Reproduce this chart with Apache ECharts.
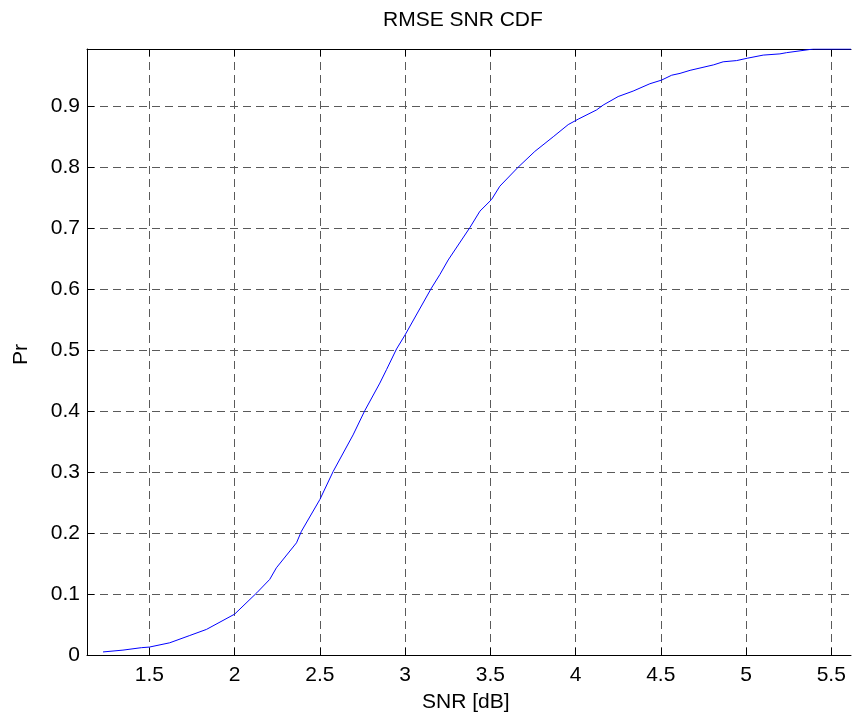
<!DOCTYPE html>
<html>
<head>
<meta charset="utf-8">
<title>RMSE SNR CDF</title>
<script src="https://cdn.jsdelivr.net/npm/echarts@6/dist/echarts.min.js"></script>
<style>
    html, body { margin: 0; padding: 0; background: #fff; }
    #cdf-chart { width: 855px; height: 720px; }
</style>
</head>
<body>
<div id="cdf-chart"></div>
<script>
// values
var snrValues = [1.228, 1.345, 1.453, 1.5, 1.619, 1.737, 1.835, 2.0, 2.13, 2.206,
    2.245, 2.363, 2.392, 2.5, 2.578, 2.695, 2.764, 2.852, 2.891, 2.95,
    3.0, 3.155, 3.204, 3.253, 3.38, 3.439, 3.507, 3.556, 3.663, 3.761,
    3.869, 3.957, 4.016, 4.123, 4.162, 4.25, 4.338, 4.436, 4.505, 4.564,
    4.613, 4.672, 4.81, 4.866, 4.945, 5.01, 5.101, 5.199, 5.238, 5.317,
    5.395, 5.616];
var prValues = [0.005, 0.008, 0.012, 0.013, 0.020, 0.032, 0.042, 0.067, 0.102, 0.124,
    0.143, 0.184, 0.203, 0.255, 0.301, 0.361, 0.401, 0.446, 0.468, 0.502,
    0.525, 0.602, 0.624, 0.648, 0.701, 0.728, 0.747, 0.769, 0.800, 0.826,
    0.850, 0.870, 0.879, 0.894, 0.902, 0.916, 0.925, 0.937, 0.943, 0.951,
    0.954, 0.959, 0.968, 0.973, 0.975, 0.979, 0.984, 0.986, 0.988, 0.991,
    0.994, 0.994];

var xTicks = [1.5, 2, 2.5, 3, 3.5, 4, 4.5, 5, 5.5];
var yTicks = [0, 0.1, 0.2, 0.3, 0.4, 0.5, 0.6, 0.7, 0.8, 0.9];

var xMin = 1.134, xMax = 5.616;
var yMin = 0, yMax = 0.994;

window.onload = function () {
    draw_cdf_chart();
}

function draw_cdf_chart() {
    var myChart = echarts.init(document.getElementById('cdf-chart'));

    var points = [];
    for (var i = 0; i < snrValues.length; i++) {
        points.push([snrValues[i], prValues[i]]);
    }

    var fontName = 'Liberation Sans, Arial, sans-serif';
    // matlab style dashed grid
    var gridDash = {
        show: true,
        lineStyle: { color: '#5a5a5a', type: [8, 5], width: 1 }
    };

    var option = {
        animation: false,
        backgroundColor: '#ffffff',
        grid: {
            left: 87,
            right: 4,
            top: 49,
            bottom: 65,
            containLabel: false
        },
        graphic: [
            {
                type: 'text',
                left: 469 - 86, top: 10,
                style: { text: 'RMSE SNR CDF', font: '21px ' + fontName, fill: '#000' }
            },
            {
                type: 'text',
                left: 469 - 47, top: 692,
                style: { text: 'SNR [dB]', font: '21px ' + fontName, fill: '#000' }
            },
            {
                type: 'text',
                x: 11, y: 365,
                rotation: Math.PI / 2,
                style: { text: 'Pr', font: '21px ' + fontName, fill: '#000' }
            }
        ],
        xAxis: [
            {
                type: 'value',
                min: xMin,
                max: xMax,
                position: 'bottom',
                axisLine: { show: true, onZero: false, lineStyle: { color: '#000', width: 1 } },
                axisTick: { show: true, inside: true, length: 7, customValues: xTicks, lineStyle: { color: '#000' } },
                axisLabel: { show: true, customValues: xTicks, margin: 10, color: '#000', fontSize: 21, fontFamily: fontName },
                splitLine: gridDash
            },
            {
                type: 'value',
                min: xMin,
                max: xMax,
                position: 'top',
                axisLine: { show: true, onZero: false, lineStyle: { color: '#000', width: 1 } },
                axisTick: { show: true, inside: true, length: 7, customValues: xTicks, lineStyle: { color: '#000' } },
                axisLabel: { show: false },
                splitLine: { show: false }
            }
        ],
        yAxis: {
            type: 'value',
            min: yMin,
            max: yMax,
            axisLine: { show: true, onZero: false, lineStyle: { color: '#000', width: 1 } },
            axisTick: { show: true, inside: true, length: 7, customValues: yTicks, lineStyle: { color: '#000' } },
            axisLabel: { show: true, customValues: yTicks, margin: 7, color: '#000', fontSize: 21, fontFamily: fontName },
            splitLine: gridDash
        },
        series: [
            {
                type: 'line',
                xAxisIndex: 0,
                data: points,
                showSymbol: false,
                smooth: false,
                lineStyle: { color: '#0000ff', width: 1 },
                z: 5
            }
        ]
    };
    myChart.setOption(option);
}
</script>
</body>
</html>
